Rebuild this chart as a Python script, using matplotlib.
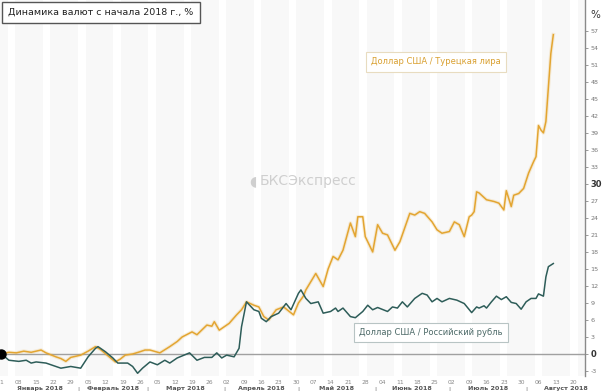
import matplotlib
matplotlib.use("Agg")
import matplotlib.pyplot as plt
import matplotlib.transforms as mtransforms
import numpy as np
import pandas as pd

plt.rcParams['font.family'] = ['DejaVu Sans']

# --- data (days since 1 Jan 2018, % change since start of year) ---
try_days = [0, 3, 6, 9, 12, 16, 18, 22, 24, 26, 28, 32, 35, 38, 40, 43, 46, 48, 50, 53,
            56, 58, 60, 64, 68, 71, 73, 77, 79, 83, 85, 86, 88, 90, 92, 95, 97, 99, 102, 104,
            106, 108, 111, 114, 118, 120, 122, 123, 127, 130, 132, 134, 136, 138, 141, 143, 144, 146, 147, 150,
            152, 154, 156, 159, 161, 165, 167, 169, 171, 174, 176, 178, 181, 183, 185, 187, 189, 190, 191, 192,
            193, 196, 199, 201, 203, 204, 206, 207, 209, 211, 213, 215, 216, 217, 218, 219, 220, 221, 222, 223]
try_vals = [0.0, 0.3, 0.2, 0.5, 0.3, 0.7, 0.2, -0.5, -0.8, -1.3, -0.6, -0.2, 0.5, 1.3, 0.8, -0.3, -1.4, -0.9, -0.2, 0.0,
            0.4, 0.7, 0.7, 0.2, 1.3, 2.2, 3.0, 3.9, 3.4, 5.1, 4.9, 5.7, 4.2, 4.8, 5.4, 6.9, 7.8, 9.2, 8.6, 8.3,
            6.6, 6.0, 7.8, 8.3, 6.9, 9.0, 10.2, 11.3, 14.2, 11.9, 15.0, 17.2, 16.6, 18.3, 23.1, 20.7, 24.2, 24.2, 20.7, 18.0,
            22.8, 21.3, 21.0, 18.3, 19.8, 24.8, 24.5, 25.1, 24.8, 23.3, 21.9, 21.3, 21.6, 23.3, 22.8, 20.7, 24.2, 24.5, 25.1, 28.6,
            28.4, 27.2, 26.9, 26.6, 25.4, 28.8, 26.0, 28.0, 28.3, 29.2, 31.9, 33.9, 34.8, 40.3, 39.5, 39.0, 41.0, 47.0, 53.0, 56.318]

rub_days = [0, 3, 7, 10, 12, 14, 18, 24, 28, 32, 35, 38, 39, 42, 45, 47, 51, 53, 55, 57,
            60, 63, 66, 68, 71, 76, 79, 82, 85, 87, 89, 91, 94, 96, 97, 99, 102, 104, 105, 107,
            109, 112, 115, 117, 120, 121, 123, 125, 128, 130, 133, 135, 136, 138, 141, 143, 146, 148, 150, 152,
            156, 158, 160, 162, 164, 167, 170, 172, 174, 176, 178, 181, 184, 187, 190, 192, 193, 195, 196, 198,
            200, 202, 204, 206, 208, 210, 212, 214, 216, 217, 219, 220, 221, 223]
rub_vals = [0.0, -1.1, -1.3, -1.1, -1.6, -1.4, -1.6, -2.5, -2.2, -2.5, -0.5, 1.0, 1.3, 0.4, -0.7, -1.6, -1.6, -2.2, -3.4, -2.5,
            -1.4, -1.9, -1.1, -1.6, -0.7, 0.2, -1.1, -0.6, -0.6, 0.2, -0.7, -0.2, -0.5, 1.0, 4.8, 9.2, 7.8, 7.5, 6.3, 5.7,
            6.6, 7.2, 8.9, 7.8, 10.7, 11.3, 9.8, 8.9, 9.2, 7.2, 7.5, 8.1, 7.5, 8.1, 6.6, 6.4, 7.5, 8.6, 7.8, 8.2,
            7.5, 8.3, 8.1, 9.2, 8.3, 9.8, 10.7, 10.4, 9.2, 9.8, 9.2, 9.8, 9.5, 8.9, 7.3, 8.3, 8.1, 8.5, 8.1, 9.2,
            10.2, 9.6, 10.1, 9.1, 8.9, 7.9, 9.2, 9.8, 9.8, 10.6, 10.2, 13.6, 15.4, 15.956]

y_ticks = list(range(-3, 58, 3))
week_ticks = [0, 7, 14, 21, 28, 35, 42, 49, 56, 63, 70, 77, 84, 91, 98, 105, 112, 119, 126, 133,
              140, 147, 154, 161, 168, 175, 182, 189, 196, 203, 210, 217, 224, 231]
months = ["Январь 2018", "Февраль 2018", "Март 2018", "Апрель 2018",
          "Май 2018", "Июнь 2018", "Июль 2018", "Август 2018"]

title = "Динамика валют с начала 2018 г., %"
label_try = "Доллар США / Турецкая лира"
label_rub = "Доллар США / Российский рубль"

start = pd.Timestamp("2018-01-01")
try_dates = start + pd.to_timedelta(try_days, unit="D")
rub_dates = start + pd.to_timedelta(rub_days, unit="D")
tick_dates = start + pd.to_timedelta(week_ticks, unit="D")
month_starts = pd.date_range("2018-01-01", "2018-09-01", freq="MS")

C_TRY = "#E3A531"
C_RUB = "#2E5D59"

fig = plt.figure(figsize=(6.04, 3.91), dpi=100)
fig.patch.set_facecolor("white")
ax = fig.add_axes([0.0, 15 / 391, 585 / 604, 376 / 391])
ax.set_facecolor("#f8f8f8")

ax.set_xlim(start - pd.Timedelta(days=0.6), start + pd.Timedelta(days=235.8))
ax.set_ylim(-3.88, 62.43)

# background stripes
s = 2.6
while s < 236:
    ax.axvspan(start + pd.Timedelta(days=s), start + pd.Timedelta(days=s + 3.0),
               color="white", lw=0, zorder=0)
    s += 14.2

ax.axhline(0, color="#a0a0a0", lw=1.0, zorder=1)

ax.plot(try_dates, try_vals, color=C_TRY, lw=2.6, alpha=0.18, zorder=2, solid_joinstyle="round")
ax.plot(try_dates, try_vals, color=C_TRY, lw=1.1, zorder=3, solid_joinstyle="round")
ax.plot(rub_dates, rub_vals, color=C_RUB, lw=1.1, zorder=4, solid_joinstyle="round")
ax.plot([try_dates[0]], [try_vals[0]], "o", color="black", ms=6.5, zorder=5, clip_on=False)

# axes styling
for side in ["left", "top", "bottom"]:
    ax.spines[side].set_visible(False)
ax.spines["right"].set_color("#8a8a8a")
ax.spines["right"].set_linewidth(1.0)

ax.yaxis.tick_right()
ax.set_yticks(y_ticks)
ax.set_yticklabels([str(v) for v in y_ticks])
ax.tick_params(axis="y", direction="out", length=2.5, width=0.6, color="#8a8a8a",
               labelsize=4.6, labelcolor="#777777", pad=1.5)
for lab in ax.get_yticklabels():
    if lab.get_text() in ("0", "30"):
        lab.set_fontweight("bold")
        lab.set_color("#333333")
        lab.set_fontsize(6)

ax.set_xticks(tick_dates)
ax.set_xticklabels([f"{d.day:02d}" if d.day != 1 else "1" for d in tick_dates])
ax.tick_params(axis="x", length=0, labelsize=4.3, labelcolor="#888888", pad=3)

# month labels and separators
trans = mtransforms.blended_transform_factory(ax.transData, ax.transAxes)
for i, name in enumerate(months):
    m0 = month_starts[i]
    m1 = month_starts[i + 1]
    mid = m0 + (m1 - m0) / 2
    if i == len(months) - 1:
        mid = m0 + pd.Timedelta(days=16)
    ax.text(mid, -0.034, name, transform=trans, ha="center", va="center",
            fontsize=4.6, color="#555555", fontweight="bold", clip_on=False)
    if i > 0:
        ax.text(m0, -0.034, "|", transform=trans, ha="center", va="center",
                fontsize=4.6, color="#777777", clip_on=False)

# title box
fig.text(0.014, 0.968, title, fontsize=6.8, color="#222222", ha="left", va="center",
         bbox=dict(boxstyle="square,pad=0.65", facecolor="white", edgecolor="#555555", lw=1.0))

# series labels
ax.text(start + pd.Timedelta(days=175.6), 51.5, label_try, fontsize=6.0, color="#D9A030",
        ha="center", va="center",
        bbox=dict(boxstyle="square,pad=0.65", facecolor="white", edgecolor="#e8dcc0", lw=0.8))
ax.text(start + pd.Timedelta(days=173.6), 3.8, label_rub, fontsize=6.0, color="#4d6a68",
        ha="center", va="center",
        bbox=dict(boxstyle="square,pad=0.65", facecolor="white", edgecolor="#b8c4c4", lw=0.8))

# watermark
ax.text(start + pd.Timedelta(days=124), 30.5, "БКСЭкспресс", fontsize=10, color="#cfcfcf",
        ha="center", va="center", zorder=1)
ax.text(start + pd.Timedelta(days=101.5), 30.5, "◖", fontsize=10, color="#cfcfcf",
        ha="center", va="center", zorder=1)

# last value boxes
ax.text(1.0, try_vals[-1], f"{try_vals[-1]:.3f}", transform=trans, fontsize=4.2,
        color="#3a2a00", ha="left", va="center", clip_on=False,
        bbox=dict(boxstyle="square,pad=0.2", facecolor="#E9A93A", edgecolor="none"))
ax.text(1.0, rub_vals[-1], f"{rub_vals[-1]:.3f}", transform=trans, fontsize=4.2,
        color="#e8f0ef", ha="left", va="center", clip_on=False,
        bbox=dict(boxstyle="square,pad=0.2", facecolor="#3e6b67", edgecolor="none"))

fig.text(0.985, 0.962, "%", fontsize=7.5, color="#333333", ha="center", va="center")

fig.savefig("out.png", dpi=100)
